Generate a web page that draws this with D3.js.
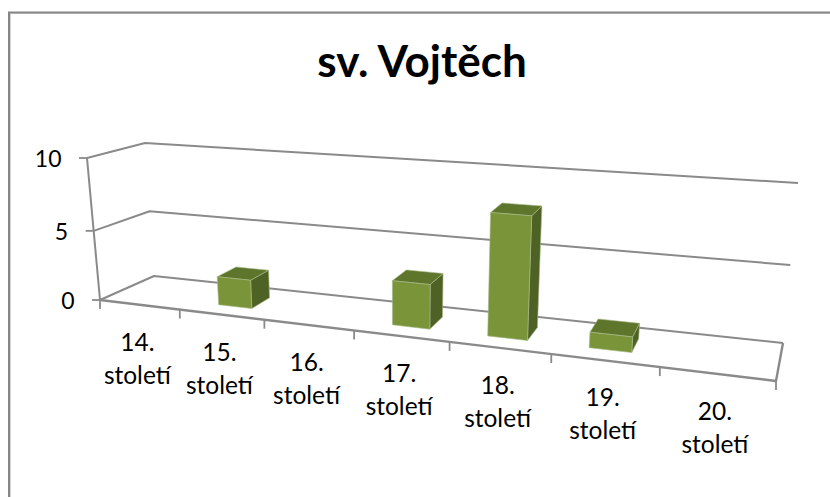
<!DOCTYPE html>
<html>
<head>
<meta charset="utf-8">
<script src="https://cdnjs.cloudflare.com/ajax/libs/d3/7.8.5/d3.min.js"></script>
<style>
html, body { margin: 0; padding: 0; background: #fff; }
svg { display: block; }
text { font-family: Lato, "Open Sans", sans-serif; fill: #000; }
</style>
</head>
<body>
<div id="chart"></div>
<script>
var chartTitle = "sv. Vojtěch";
var categories = ["14.", "15.", "16.", "17.", "18.", "19.", "20."];
var categorySuffix = "století";
var values = [0, 2, 0, 3, 8, 1, 0];
var valueTicks = [0, 5, 10];

var w = 830;
var h = 497;
var gridColor = "#8a8a8a";

// the box of the 3D plot as it lands on the page
var floor = { fl: [100, 300], fr: [776, 381], br: [783, 343], bl: [154, 276] };
var roof = { fl: [87, 158], fr: [792, 210], br: [798, 183], bl: [145, 143] };

var svg = d3.select("#chart")
    .append("svg")
    .attr("width", w)
    .attr("height", h);

// frame, only left and top are in the picture
svg.append("path")
    .attr("d", d3.line()([[10.5, h], [10.5, 13.5], [w, 13.5]]))
    .attr("fill", "none")
    .attr("stroke", "#d4d4d4")
    .attr("stroke-width", 1);
svg.append("path")
    .attr("d", d3.line()([[9, h], [9, 12.5], [w, 12.5]]))
    .attr("fill", "none")
    .attr("stroke", "#868686")
    .attr("stroke-width", 2);

var x = d3.scaleBand()
    .domain(categories)
    .range([0, 1])
    .paddingInner(0)
    .paddingOuter(0);

// the view looks down a little, the upper half comes out slightly taller
var y = d3.scaleLinear()
    .domain([0, 5, 10])
    .range([0, 0.487, 1]);

// right side of the box is nearer, so the categories get wider
function warp(u) {
    return u / (1.245 * (1 - u) + u);
}

function mix(a, b, t) {
    return [a[0] + (b[0] - a[0]) * t, a[1] + (b[1] - a[1]) * t];
}

// u along the categories, v into the depth, val on the value axis
function project(u, v, val) {
    var s = warp(u);
    var low = mix(mix(floor.fl, floor.fr, s), mix(floor.bl, floor.br, s), v);
    var high = mix(mix(roof.fl, roof.fr, s), mix(roof.bl, roof.br, s), v);
    return mix(low, high, y(val));
}

var line = d3.line();

function strokeLine(points, width) {
    svg.append("path")
        .attr("d", line(points))
        .attr("fill", "none")
        .attr("stroke", gridColor)
        .attr("stroke-width", width)
        .attr("stroke-linejoin", "round");
}

// gridlines, they turn at the left edge and run along the back
valueTicks.forEach(function(t) {
    strokeLine([project(0, 0, t), project(0, 1, t), project(1, 1, t)], 2);
});

// floor front and right edge, value axis
strokeLine([project(0, 0, 0), project(1, 0, 0), project(1, 1, 0)], 2.4);
strokeLine([project(0, 0, 0), project(0, 0, 10)], 2);

// value ticks and labels
valueTicks.forEach(function(t) {
    var p = project(0, 0, t);
    strokeLine([[p[0] - 8, p[1]], p], 1.8);
    svg.append("text")
        .attr("x", p[0] - 25.5)
        .attr("y", p[1] + 9)
        .attr("text-anchor", "end")
        .style("font-size", "23px")
        .text(t);
});

// category ticks
d3.range(categories.length + 1).forEach(function(i) {
    var p = project(i / categories.length, 0, 0);
    strokeLine([p, [p[0], p[1] + 9]], 1.8);
});

// bars, gap width and gap depth 150% leave 0.4 of the band
var barFrom = 0.3;
var barTo = 0.7;

categories.forEach(function(c, i) {
    if (values[i] === 0) return;
    var u0 = x(c) + x.bandwidth() * barFrom;
    var u1 = x(c) + x.bandwidth() * barTo;
    var val = values[i];
    var faces = [
        { fill: "#4e6225", pts: [project(u1, barFrom, 0), project(u1, barTo, 0), project(u1, barTo, val), project(u1, barFrom, val)] },
        { fill: "#5d762c", pts: [project(u0, barFrom, val), project(u1, barFrom, val), project(u1, barTo, val), project(u0, barTo, val)] },
        { fill: "#7a9539", pts: [project(u0, barFrom, 0), project(u1, barFrom, 0), project(u1, barFrom, val), project(u0, barFrom, val)] }
    ];
    svg.selectAll(".face" + i)
        .data(faces)
        .enter()
        .append("path")
        .attr("class", "face" + i)
        .attr("d", function(d) { return line(d.pts) + "Z"; })
        .attr("fill", function(d) { return d.fill; })
        .attr("stroke", "#a9b98a")
        .attr("stroke-width", 0.6)
        .attr("stroke-linejoin", "round");
});

// category labels on two lines
categories.forEach(function(c, i) {
    var p = project(x(c) + x.bandwidth() / 2, 0, 0);
    var label = svg.append("text")
        .attr("text-anchor", "middle")
        .style("font-size", "24.5px");
    label.append("tspan")
        .attr("x", p[0] - 2)
        .attr("y", p[1] + 46)
        .text(c);
    label.append("tspan")
        .attr("x", p[0] - 2)
        .attr("y", p[1] + 79)
        .text(categorySuffix);
});

svg.append("text")
    .attr("x", 422)
    .attr("y", 77)
    .attr("text-anchor", "middle")
    .style("font-size", "44px")
    .style("font-weight", "bold")
    .text(chartTitle);
</script>
</body>
</html>
